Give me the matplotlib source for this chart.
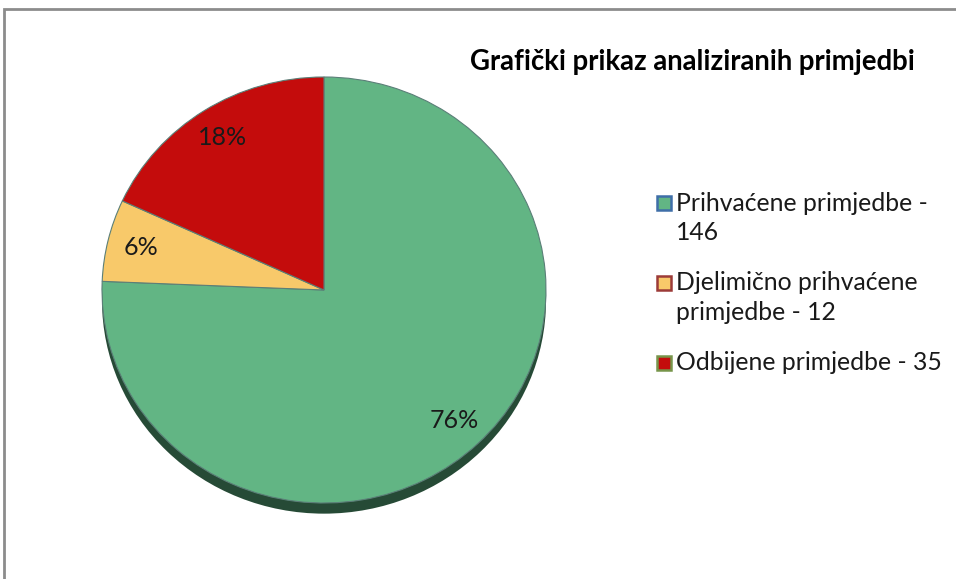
import numpy as np
import matplotlib.pyplot as plt
from matplotlib.patches import Ellipse, Rectangle

labels = ['Prihvaćene primjedbe -\n146',
          'Djelimično prihvaćene\nprimjedbe - 12',
          'Odbijene primjedbe - 35']
values = [146, 12, 35]
colors = ['#62b584', '#f8c96a', '#c40c0c']
legend_edges = ['#3f6ea8', '#9c3b38', '#77954a']
title = 'Grafički prikaz analiziranih primjedbi'

plt.rcParams['font.family'] = ['Lato', 'DejaVu Sans']

W, H = 956, 579
fig = plt.figure(figsize=(W / 100, H / 100), dpi=100)

# grey frame, runs off right and bottom like the screenshot
fig.add_artist(Rectangle((4 / W, -0.1), 1.2, 1 - 9 / H + 0.1, transform=fig.transFigure,
                         fill=False, edgecolor='#8c8c8c', linewidth=2))

# pie sits in an axes stretched a little wider than tall (tilted look)
cx, cy, rx, ry = 324, 290, 222, 213
ax = fig.add_axes([(cx - rx) / W, (H - cy - ry) / H, 2 * rx / W, 2 * ry / H])
ax.add_patch(Ellipse((0, -0.05), 2, 2, facecolor='#264a36', edgecolor='none',
                     zorder=0, clip_on=False))
wedges, texts, autotexts = ax.pie(values, colors=colors, startangle=90, counterclock=False,
                                  autopct=lambda p: '%d%%' % round(p), pctdistance=0.85,
                                  wedgeprops=dict(edgecolor='#5b7f78', linewidth=0.8),
                                  textprops=dict(fontsize=18, color='#1a1a1a'))
ax.set_aspect('auto')
ax.set_xlim(-1, 1)
ax.set_ylim(-1, 1)
ax.axis('off')

fig.text(692 / W, 1 - 62 / H, title, fontsize=19.8, fontweight='bold',
         ha='center', va='center', color='#000000')

# legend drawn by hand so the box lines up with the first text line
y = 203
for lab, col, ec in zip(labels, colors, legend_edges):
    fig.add_artist(Rectangle((657 / W, 1 - (y + 7) / H), 14 / W, 14 / H,
                             transform=fig.transFigure, facecolor=col,
                             edgecolor=ec, linewidth=1.8))
    for k, line in enumerate(lab.split('\n')):
        fig.text(676 / W, 1 - (y + 30 * k) / H, line, fontsize=17.8,
                 ha='left', va='center', color='#1a1a1a')
    y += 30 * (lab.count('\n') + 1) + 20

plt.savefig('out.png', dpi=100)
